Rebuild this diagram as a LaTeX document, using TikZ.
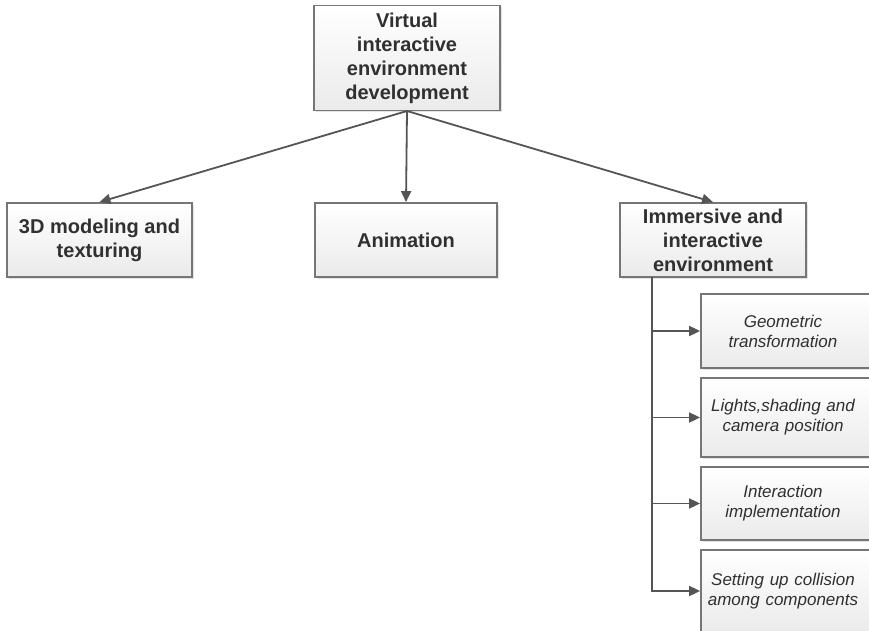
\documentclass[tikz,border=0pt]{standalone}
\usepackage{fontspec}
\setmainfont{Liberation Sans}
\usetikzlibrary{arrows.meta,shadows}
\definecolor{boxline}{HTML}{767676}
\definecolor{arrline}{HTML}{555555}
\definecolor{txt}{HTML}{303030}
\tikzset{
  box/.style={draw=boxline, line width=1.8pt, top color=white, bottom color=gray!16,
    drop shadow={shadow xshift=2pt, shadow yshift=-2pt, fill=gray!45, opacity=0.5},
    inner sep=0pt, align=center, text=txt},
  mainbox/.style={box, font=\bfseries\fontsize{20}{24}\selectfont},
  subbox/.style={box, font=\itshape\fontsize{17}{20}\selectfont},
  arr/.style={draw=arrline, line width=1.8pt, -{Triangle[length=11pt,width=10pt]}},
  trunkline/.style={draw=arrline, line width=1.8pt}
}
\begin{document}
\begin{tikzpicture}[x=1pt,y=-1pt]
\clip (0,0) rectangle (869,631);
\fill[white] (0,0) rectangle (869,631);
\node[mainbox, minimum width=186pt, minimum height=105pt] (top) at (407,58)
  {Virtual\\interactive\\environment\\development};
\node[mainbox, minimum width=185pt, minimum height=74pt] (model) at (99.5,240)
  {3D modeling and\\texturing};
\node[mainbox, minimum width=182pt, minimum height=74pt] (anim) at (406,240)
  {Animation};
\node[mainbox, minimum width=186pt, minimum height=74pt] (imm) at (713,240)
  {Immersive and\\interactive\\environment};
\node[subbox, minimum width=172pt, minimum height=74pt, text width=160pt] (s1) at (787,331)
  {\hspace*{-8pt}Geometric\\\hspace*{-8pt}transformation};
\node[subbox, minimum width=172pt, minimum height=79pt, text width=160pt] (s2) at (787,417.5)
  {\hspace*{-8pt}Lights,shading and\\\hspace*{-8pt}camera position};
\node[subbox, minimum width=172pt, minimum height=73pt, text width=160pt] (s3) at (787,503.5)
  {\hspace*{-8pt}Interaction\\\hspace*{-8pt}implementation};
\node[subbox, minimum width=172pt, minimum height=82pt, text width=160pt] (s4) at (787,591)
  {\hspace*{-8pt}Setting up collision\\\hspace*{-8pt}among components};
\coordinate (hub) at (407,111);
\coordinate (trunk) at (652,276.7);
\draw[arr] (hub) -- (model.north);
\draw[arr] (hub) -- (anim.north);
\draw[arr] (hub) -- (imm.north);
\draw[trunkline] (trunk) -- (trunk |- s4.west);
\draw[arr] (trunk) |- (s1.west);
\draw[arr] (trunk) |- (s2.west);
\draw[arr] (trunk) |- (s3.west);
\draw[arr] (trunk) |- (s4.west);
\end{tikzpicture}
\end{document}
